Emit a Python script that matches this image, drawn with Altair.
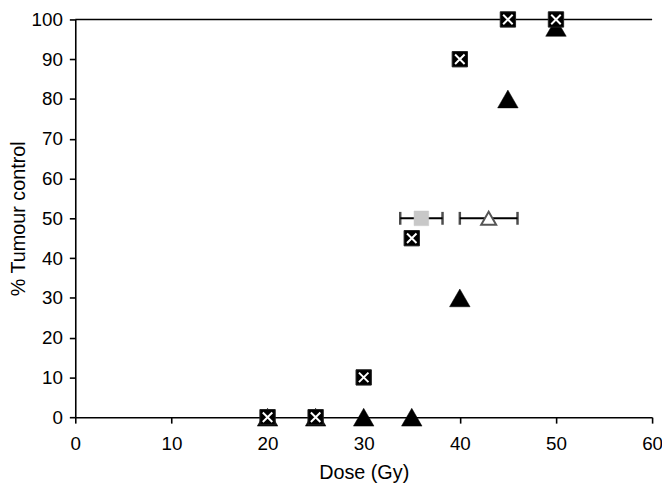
import altair as alt
import pandas as pd

# Boxed-cross series
dose_sq = [20, 25, 30, 35, 40, 45, 50]
tcp_sq = [0, 0, 10, 45, 90, 100, 100]

# Filled-triangle series
dose_tri = [20, 25, 30, 35, 40, 45, 50]
tcp_tri = [0, 0, 0, 0, 30, 80, 98]

# TCD50 estimates with error bars
tcd_grey_sq = [36.0, 33.8, 38.2, 50]   # centre, low, high, y
tcd_open_tri = [43.0, 40.0, 46.0, 50]

x_ticks = [0, 10, 20, 30, 40, 50, 60]
y_ticks = [0, 10, 20, 30, 40, 50, 60, 70, 80, 90, 100]

df_sq = pd.DataFrame({"dose": dose_sq, "tcp": tcp_sq})
df_tri = pd.DataFrame({"dose": dose_tri, "tcp": tcp_tri})
df_tcd = pd.DataFrame({
    "kind": ["grey", "open"],
    "dose": [tcd_grey_sq[0], tcd_open_tri[0]],
    "lo": [tcd_grey_sq[1], tcd_open_tri[1]],
    "hi": [tcd_grey_sq[2], tcd_open_tri[2]],
    "tcp": [tcd_grey_sq[3], tcd_open_tri[3]],
})
df_top = pd.DataFrame({"x0": [0], "x1": [60], "y": [100]})

xs = alt.Scale(domain=[0, 60], nice=False)
ys = alt.Scale(domain=[0, 100], nice=False)

X = alt.X("dose:Q", scale=xs, title="Dose (Gy)",
          axis=alt.Axis(values=x_ticks, labelOverlap=False, labelFlush=False))
Y = alt.Y("tcp:Q", scale=ys, title="% Tumour control",
          axis=alt.Axis(values=y_ticks, labelOverlap=False, labelFlush=False))

top_rule = alt.Chart(df_top).mark_rule(color="black", strokeWidth=1.6).encode(
    x=alt.X("x0:Q", scale=xs), x2="x1:Q", y=alt.Y("y:Q", scale=ys))

tri = alt.Chart(df_tri).mark_point(
    shape="triangle-up", filled=True, fill="black", stroke="black",
    strokeWidth=0.5, size=430, opacity=1).encode(x=X, y=Y)

sq = alt.Chart(df_sq).mark_point(
    shape="square", filled=True, fill="black", stroke="#222",
    strokeWidth=1, size=240, opacity=1).encode(x=X, y=Y)

cross = alt.Chart(df_sq).mark_point(
    shape="M-0.62,-0.62L0.62,0.62M-0.62,0.62L0.62,-0.62", filled=False,
    stroke="white", strokeWidth=2, size=240, opacity=1).encode(x=X, y=Y)

err = alt.Chart(df_tcd).mark_rule(color="black", strokeWidth=2).encode(
    x=alt.X("lo:Q", scale=xs), x2="hi:Q", y=alt.Y("tcp:Q", scale=ys))

caps = alt.Chart(df_tcd).transform_fold(["lo", "hi"], as_=["end", "xv"]).mark_tick(
    color="black", thickness=2.5, size=13, orient="vertical").encode(
    x=alt.X("xv:Q", scale=xs), y=alt.Y("tcp:Q", scale=ys))

grey_sq = alt.Chart(df_tcd).transform_filter(alt.datum.kind == "grey").mark_point(
    shape="square", filled=True, fill="#c8c8c8", stroke="#c8c8c8",
    strokeWidth=0.5, size=220, opacity=1).encode(x=X, y=Y)

open_tri = alt.Chart(df_tcd).transform_filter(alt.datum.kind == "open").mark_point(
    shape="triangle-up", filled=True, fill="white", stroke="#555",
    strokeWidth=2, size=230, opacity=1).encode(x=X, y=Y)

chart = alt.layer(top_rule, tri, sq, cross, err, caps, grey_sq, open_tri).properties(
    width=583, height=402,
    autosize=alt.AutoSizeParams(type="none"),
    padding={"left": 68, "top": 9, "right": 10, "bottom": 70},
).configure_view(stroke=None).configure_axis(
    grid=False, domainColor="black", domainWidth=1.6, tickColor="black",
    tickWidth=1.6, tickSize=6, labelFont="Liberation Sans", labelFontSize=19,
    labelColor="black", titleFont="Liberation Sans", titleFontSize=20,
    titleFontWeight="normal", titleColor="black",
).configure_axisX(labelPadding=12, titlePadding=9).configure_axisY(
    labelPadding=7, titlePadding=3)

chart.save("out.html", embed_options={"renderer": "svg", "actions": False})
